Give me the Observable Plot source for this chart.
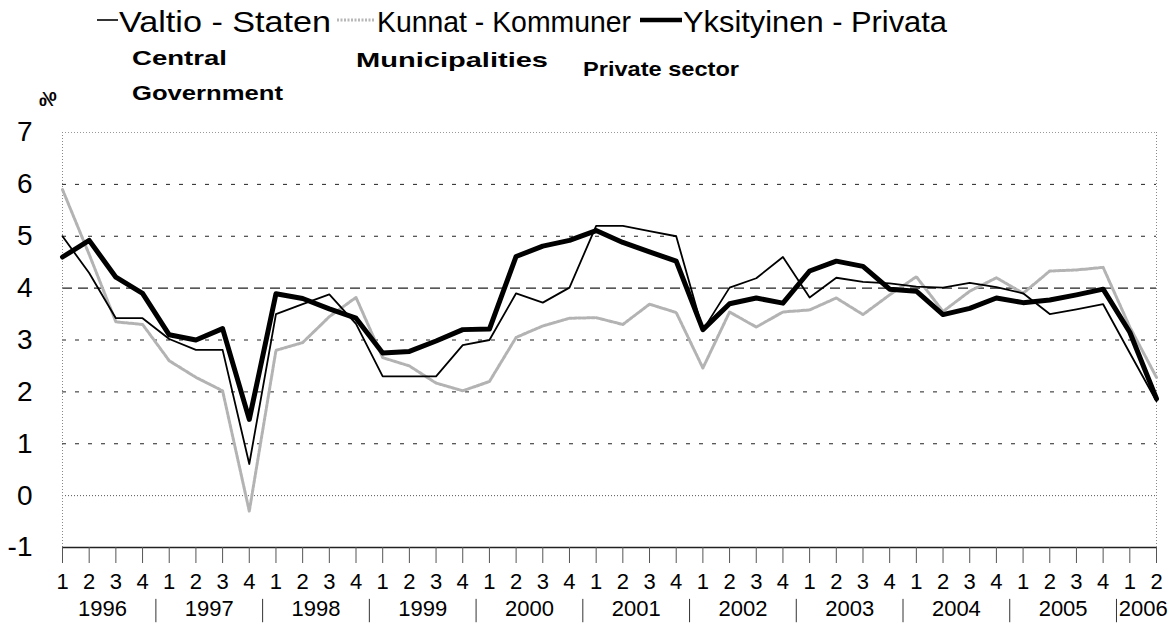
<!DOCTYPE html>
<html><head><meta charset="utf-8">
<script src="https://cdn.jsdelivr.net/npm/d3@7"></script>
<script src="https://cdn.jsdelivr.net/npm/@observablehq/plot@0.6"></script>
<style>
body{margin:0;background:#fff;font-family:"Liberation Sans",Arial,sans-serif;}
#wrap{width:1170px;height:624px;overflow:hidden;background:#fff;}
svg{display:block;}
</style></head><body><div id="wrap"></div>
<script>
// ---- data ----
const years = ["1996","1997","1998","1999","2000","2001","2002","2003","2004","2005","2006"];
const quarterLabels = ["1","2","3","4","1","2","3","4","1","2","3","4","1","2","3","4","1","2","3","4","1","2","3","4","1","2","3","4","1","2","3","4","1","2","3","4","1","2","3","4","1","2"];
const valtio = [5.0,4.29,3.42,3.42, 3.02,2.81,2.81,0.61, 3.5,3.69,3.88,3.31, 2.3,2.3,2.3,2.9, 3.0,3.9,3.72,4.01, 5.2,5.2,5.1,5.0, 3.19,4.01,4.19,4.6, 3.82,4.2,4.12,4.09, 4.03,4.01,4.1,4.02, 3.9,3.5,3.59,3.69, 2.75,1.82];
const kunnat = [5.9,4.65,3.35,3.3, 2.6,2.28,2.02,-0.3, 2.8,2.95,3.45,3.82, 2.66,2.5,2.17,2.02, 2.2,3.05,3.27,3.42, 3.43,3.3,3.69,3.53, 2.46,3.54,3.25,3.54, 3.58,3.81,3.49,3.87, 4.22,3.55,3.94,4.2, 3.9,4.33,4.35,4.4, 3.25,2.28];
const yksityinen = [4.6,4.92,4.21,3.9, 3.1,3.0,3.22,1.47, 3.89,3.8,3.6,3.42, 2.75,2.78,2.98,3.2, 3.21,4.61,4.81,4.92, 5.11,4.88,4.7,4.52, 3.2,3.7,3.81,3.71, 4.33,4.52,4.42,3.98, 3.94,3.49,3.61,3.81, 3.72,3.77,3.87,3.98, 3.15,1.87];
const seriesNames = ["Valtio - Staten","Kunnat - Kommuner","Yksityinen - Privata"];
const seriesSub1 = ["Central","Municipalities","Private sector"];
const seriesSub2 = ["Government","",""];
const yTicks = [-1,0,1,2,3,4,5,6,7];
const unitLabel = "%";

const font = '"Liberation Sans", Arial, sans-serif';
const toRows = arr => arr.map((v,i)=>({i, v}));

// ---- legend (above the plot) ----
const L = d3.create("svg").attr("width",1170).attr("height",112)
  .attr("font-family", font);
const legendItems = [
  {name: seriesNames[0], mx1:97, mx2:118, tx:119, tl:212, stroke:"#000", sw:1.6, dash:null,
   sub1: seriesSub1[0], s1x:132, s1y:65, s1l:95, sub2: seriesSub2[0], s2x:132, s2y:100, s2l:151},
  {name: seriesNames[1], mx1:337, mx2:374, tx:377, tl:254, stroke:"#b8b8b8", sw:3, dash:"2 1.5",
   sub1: seriesSub1[1], s1x:356, s1y:67, s1l:192},
  {name: seriesNames[2], mx1:640, mx2:682, tx:683, tl:264, stroke:"#000", sw:4.5, dash:null,
   sub1: seriesSub1[2], s1x:583, s1y:76, s1l:156}
];
for (const it of legendItems) {
  L.append("line").attr("x1",it.mx1).attr("x2",it.mx2).attr("y1",20).attr("y2",20)
    .attr("stroke",it.stroke).attr("stroke-width",it.sw).attr("stroke-dasharray",it.dash);
  L.append("text").attr("x",it.tx).attr("y",32).attr("font-size",30)
    .attr("textLength",it.tl).attr("lengthAdjust","spacingAndGlyphs").text(it.name);
  L.append("text").attr("x",it.s1x).attr("y",it.s1y).attr("font-size",21).attr("font-weight","bold")
    .attr("textLength",it.s1l).attr("lengthAdjust","spacingAndGlyphs").text(it.sub1);
  if (it.sub2) L.append("text").attr("x",it.s2x).attr("y",it.s2y).attr("font-size",21).attr("font-weight","bold")
    .attr("textLength",it.s2l).attr("lengthAdjust","spacingAndGlyphs").text(it.sub2);
}
L.append("text").attr("transform","translate(39,92) scale(1,-1)").attr("font-size",20)
  .attr("font-weight","bold").text(unitLabel);
document.getElementById("wrap").appendChild(L.node());

// ---- plot ----
const qIdx = d3.range(quarterLabels.length);
const last = quarterLabels.length - 1;
const yearMid = years.map((y,k)=>({y, x:(k*4 + Math.min(k*4+3,last))/2}));
const seps = d3.range(1, years.length).map(k=>k*4-0.5);
const yMin = yTicks[0];

const chart = Plot.plot({
  width:1170, height:512, marginTop:20, marginBottom:77, marginLeft:62, marginRight:14,
  style:{fontFamily:font, background:"white", color:"black", overflow:"visible"},
  x:{domain:[0,last]},
  y:{domain:[yMin, yTicks[yTicks.length-1]]},
  marks:[
    Plot.ruleY([1,2,3,5,6], {stroke:"#222", strokeWidth:1, strokeDasharray:"4 9"}),
    Plot.ruleY([4], {stroke:"#222", strokeWidth:1.4, strokeDasharray:"10 6"}),
    Plot.ruleY([0], {stroke:"#555", strokeWidth:1, strokeDasharray:"1 2"}),
    Plot.ruleY([7], {stroke:"#999", strokeWidth:1, strokeDasharray:"1 2"}),
    Plot.ruleX([0], {stroke:"#888", strokeWidth:1, strokeDasharray:"1 2"}),
    Plot.ruleX([last], {stroke:"#888", strokeWidth:1, strokeDasharray:"1 2"}),
    Plot.ruleY([yMin], {stroke:"#222", strokeWidth:1.5}),
    Plot.axisY({ticks:yTicks, tickSize:0, tickPadding:30, fontSize:28, label:null, tickFormat:d=>String(d)}),
    Plot.axisX({ticks:qIdx, tickSize:16, tickPadding:10, fontSize:22, label:null, stroke:"#555",
      tickFormat:i=>quarterLabels[i]}),
    Plot.text(yearMid, {x:"x", text:"y", frameAnchor:"bottom", dy:68, fontSize:22}),
    Plot.ruleX(seps, {y1:yMin-1.0, y2:yMin-1.45, stroke:"#333", strokeWidth:1}),
    Plot.line(toRows(kunnat), {x:"i", y:"v", stroke:"#b3b3b3", strokeWidth:3, strokeDasharray:"3 1.5"}),
    Plot.line(toRows(valtio), {x:"i", y:"v", stroke:"#000", strokeWidth:1.8}),
    Plot.line(toRows(yksityinen), {x:"i", y:"v", stroke:"#000", strokeWidth:5})
  ]
});
document.getElementById("wrap").appendChild(chart);
</script></body></html>
